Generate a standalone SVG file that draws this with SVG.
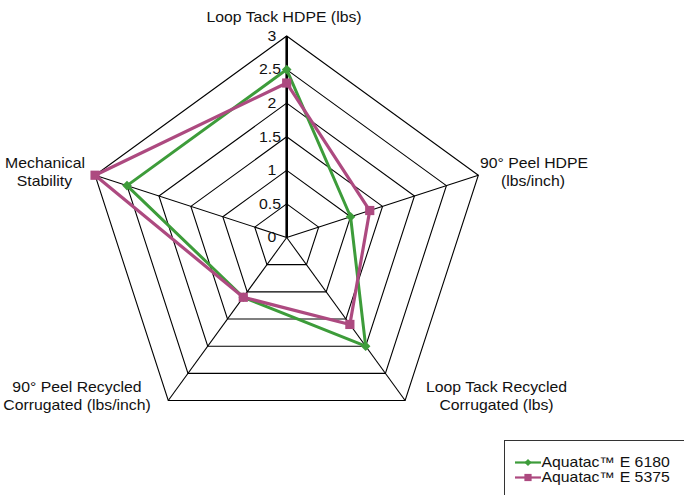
<svg xmlns="http://www.w3.org/2000/svg" width="684" height="495" viewBox="0 0 684 495">
<style>
.t{font-family:"Liberation Sans",Arial,sans-serif;font-size:14px;fill:#111}
.m{text-anchor:middle}
.grid{fill:none;stroke:#000;stroke-width:1.1}
.spoke{stroke:#000;stroke-width:1.1}
.axis{stroke:#000;stroke-width:2.6}
.g{fill:none;stroke:#3d9c3a;stroke-width:3;stroke-linejoin:round}
.p{fill:none;stroke:#ad4a80;stroke-width:3.2;stroke-linejoin:round}
.gm{fill:#3d9c3a}
.pm{fill:#ad4a80}
</style>
<defs>
<path id="dia" d="M0,-4.8 L4.8,0 L0,4.8 L-4.8,0 Z"/>
<rect id="sq" x="-4.6" y="-4.6" width="9.2" height="9.2"/>
<path id="dias" d="M0,-3.6 L3.6,0 L0,3.6 L-3.6,0 Z"/>
<rect id="sqs" x="-3.6" y="-3.6" width="7.2" height="7.2"/>
</defs>
<rect width="684" height="495" fill="#fff"/>
<g id="grid">
<polygon class="grid" points="286.7,203.92 318.64,227.12 306.44,264.67 266.96,264.67 254.76,227.12"/>
<polygon class="grid" points="286.7,170.33 350.58,216.74 326.18,291.84 247.22,291.84 222.82,216.74"/>
<polygon class="grid" points="286.7,136.75 382.52,206.37 345.92,319.01 227.48,319.01 190.88,206.37"/>
<polygon class="grid" points="286.7,103.17 414.46,195.99 365.66,346.18 207.74,346.18 158.94,195.99"/>
<polygon class="grid" points="286.7,69.58 446.40,185.61 385.40,373.35 188.0,373.35 127.0,185.61"/>
<polygon class="grid" points="286.7,36 478.34,175.23 405.14,400.52 168.26,400.52 95.06,175.23"/>
<line class="spoke" x1="286.7" y1="237.5" x2="478.34" y2="175.23"/>
<line class="spoke" x1="286.7" y1="237.5" x2="405.14" y2="400.52"/>
<line class="spoke" x1="286.7" y1="237.5" x2="168.26" y2="400.52"/>
<line class="spoke" x1="286.7" y1="237.5" x2="95.06" y2="175.23"/>
<line class="axis" x1="286.7" y1="237.5" x2="286.7" y2="36"/>
</g>
<g id="ticks" class="t m">
<text transform="translate(272,40.8) scale(1.13,1)">3</text>
<text transform="translate(270,74.4) scale(1.13,1)">2.5</text>
<text transform="translate(272,108) scale(1.13,1)">2</text>
<text transform="translate(270,141.6) scale(1.13,1)">1.5</text>
<text transform="translate(272,175.1) scale(1.13,1)">1</text>
<text transform="translate(270,208.7) scale(1.13,1)">0.5</text>
<text transform="translate(272,242.3) scale(1.13,1)">0</text>
</g>
<g id="labels" class="t m">
<text transform="translate(284,21.5) scale(1.13,1)">Loop Tack HDPE (lbs)</text>
<text transform="translate(534,168.3) scale(1.13,1)">90° Peel HDPE</text>
<text transform="translate(533,186.3) scale(1.13,1)">(lbs/inch)</text>
<text transform="translate(45,168.3) scale(1.13,1)">Mechanical</text>
<text transform="translate(44.5,186.3) scale(1.13,1)">Stability</text>
<text transform="translate(77,392.3) scale(1.13,1)">90° Peel Recycled</text>
<text transform="translate(77,410.3) scale(1.13,1)">Corrugated (lbs/inch)</text>
<text transform="translate(496.5,392.3) scale(1.13,1)">Loop Tack Recycled</text>
<text transform="translate(496.5,410.3) scale(1.13,1)">Corrugated (lbs)</text>
</g>
<g id="series-6180">
<path class="g" d="M286.7,69.58 L350.58,216.74 L365.66,346.18 L243.27,297.27 L127.0,185.61 Z"/>
<use href="#dia" class="gm" x="286.7" y="69.58"/>
<use href="#dia" class="gm" x="350.58" y="216.74"/>
<use href="#dia" class="gm" x="365.66" y="346.18"/>
<use href="#dia" class="gm" x="243.27" y="297.27"/>
<use href="#dia" class="gm" x="127.0" y="185.61"/>
</g>
<g id="series-5375">
<path class="p" d="M286.7,83.02 L369.74,210.52 L349.87,324.44 L243.27,297.27 L95.06,175.23 Z"/>
<use href="#sq" class="pm" x="286.7" y="83.02"/>
<use href="#sq" class="pm" x="369.74" y="210.52"/>
<use href="#sq" class="pm" x="349.87" y="324.44"/>
<use href="#sq" class="pm" x="243.27" y="297.27"/>
<use href="#sq" class="pm" x="95.06" y="175.23"/>
</g>
<g id="legend">
<rect x="504.5" y="440.5" width="200" height="80" fill="#fff" stroke="#333" stroke-width="1"/>
<line x1="515" y1="462.5" x2="541" y2="462.5" stroke="#3d9c3a" stroke-width="2.2"/>
<use href="#dias" class="gm" x="528" y="462.5"/>
<line x1="515" y1="477.5" x2="541" y2="477.5" stroke="#ad4a80" stroke-width="2.2"/>
<use href="#sqs" class="pm" x="528" y="477.5"/>
<text class="t" transform="translate(541.5,466.5) scale(1.13,1)">Aquatac™ E 6180</text>
<text class="t" transform="translate(541.5,481.5) scale(1.13,1)">Aquatac™ E 5375</text>
</g>
</svg>
